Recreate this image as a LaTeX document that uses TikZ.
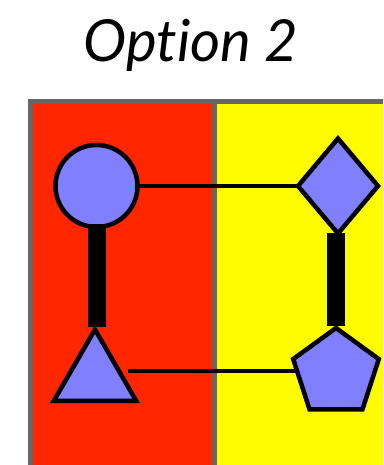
\documentclass[tikz,border=0pt]{standalone}
\usepackage{fontspec}
\setmainfont[RawFeature=-liga]{Lato}
\usetikzlibrary{shapes.geometric}
\definecolor{bgred}{RGB}{255,38,0}
\definecolor{bgyellow}{RGB}{255,251,0}
\definecolor{framegray}{RGB}{102,102,102}
\definecolor{shapeblue}{RGB}{128,128,255}
\begin{document}
\begin{tikzpicture}[x=1pt,y=-1pt,
  shp/.style={draw=black,fill=shapeblue,line width=4.5pt,inner sep=0pt,outer sep=0pt,line join=miter},
  thin/.style={line width=4.5pt},
  bar/.style={line width=18pt}]
\useasboundingbox (0,0) rectangle (383,465);
\begin{scope}
\clip (0,0) rectangle (383,465);
\fill[framegray] (28,99) rectangle (400,480);
\fill[bgred] (33,104) rectangle (212,480);
\fill[bgyellow] (217,104) rectangle (400,480);
\end{scope}
\node[anchor=base] (title) at (191,62) {\fontsize{58}{58}\selectfont\itshape Option 2};
\node[shp,circle,minimum size=82pt] (circ) at (96.5,186) {};
\node[shp,diamond,minimum width=80pt,minimum height=95pt] (diam) at (338,186) {};
\node[shp,regular polygon,regular polygon sides=3,minimum size=95pt] (tri) at (95,377) {};
\node[shp,regular polygon,regular polygon sides=5,minimum size=90pt] (pent) at (336,373) {};
\draw[thin] (circ) -- (diam);
\coordinate (tstart) at (128,371);
\draw[thin] (tstart) -- (tstart -| pent.west);
\draw[bar] ([yshift=3pt]circ.south) -- ([yshift=3pt]circ.south |- tri.north);
\draw[bar] ([xshift=-2pt,yshift=1pt]diam.south) -- ([xshift=-2pt,yshift=2pt]diam.south |- pent.north);
\end{tikzpicture}
\end{document}
